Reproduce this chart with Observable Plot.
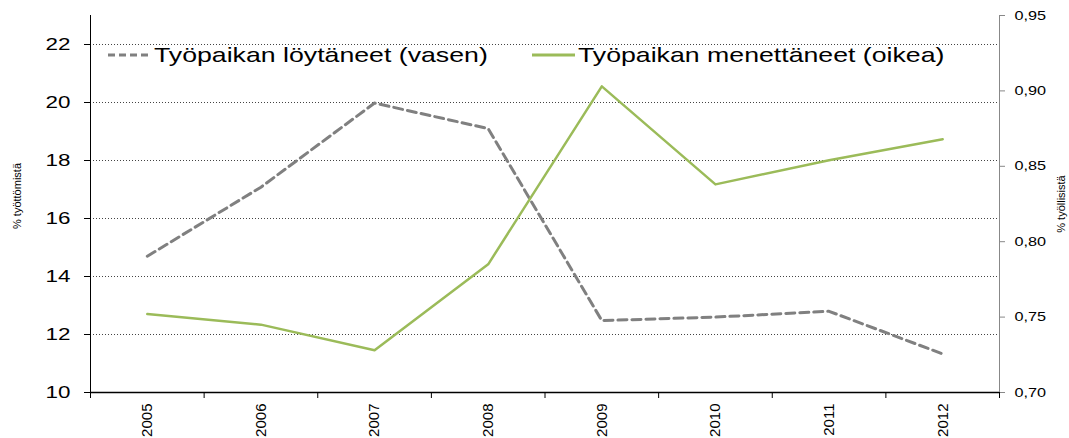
<!DOCTYPE html>
<html><head><meta charset="utf-8">
<script src="https://cdn.jsdelivr.net/npm/d3@7"></script>
<script src="https://cdn.jsdelivr.net/npm/@observablehq/plot@0.6"></script>
<style>body{margin:0;background:#fff;}</style>
</head><body><div id="chart"></div>
<script>
const years = [2005, 2006, 2007, 2008, 2009, 2010, 2011, 2012];
const foundJob = [14.7, 17.08, 19.98, 19.1, 12.48, 12.6, 12.8, 11.33];
const lostJob = [0.752, 0.745, 0.728, 0.785, 0.903, 0.838, 0.854, 0.868];
const leftTicks = [10, 12, 14, 16, 18, 20, 22];
const rightTicks = [0.70, 0.75, 0.80, 0.85, 0.90, 0.95];
const seriesNames = ["Työpaikan löytäneet (vasen)", "Työpaikan menettäneet (oikea)"];
const axisTitles = ["% työttömistä", "% työllisistä"];

const leftDomain = [10, 23];
const rightDomain = [0.70, 0.95];
const toLeft = v => leftDomain[0] + (v - rightDomain[0]) / (rightDomain[1] - rightDomain[0]) * (leftDomain[1] - leftDomain[0]);
const fromLeft = v => rightDomain[0] + (v - leftDomain[0]) / (leftDomain[1] - leftDomain[0]) * (rightDomain[1] - rightDomain[0]);

const data = years.map((year, i) => ({year, found: foundJob[i], lost: toLeft(lostJob[i])}));
const bounds = d3.range(years.length + 1).map(i => years[0] - 0.5 + i);

const plot = Plot.plot({
  width: 1069, height: 438,
  marginLeft: 90, marginRight: 70, marginTop: 15, marginBottom: 46,
  style: {fontFamily: "'Liberation Sans', Arial, sans-serif", background: "#fff", color: "#000"},
  x: {domain: [bounds[0], bounds[bounds.length - 1]]},
  y: {domain: leftDomain},
  marks: [
    Plot.gridY(leftTicks.slice(1), {stroke: "#444", strokeOpacity: 1, strokeDasharray: "1,2"}),
    Plot.axisY(leftTicks, {anchor: "left", tickSize: 6, tickPadding: 14, fontSize: 16, label: null, color: "#000"}),
    Plot.axisY(rightTicks.map(toLeft), {anchor: "right", tickSize: 5, tickPadding: 10, fontSize: 12.5, label: null,
      stroke: "#888", fill: "#000", tickFormat: d => fromLeft(d).toFixed(2).replace(".", ",")}),
    Plot.ruleX([bounds[0]], {stroke: "#000", strokeWidth: 1}),
    Plot.ruleX([bounds[bounds.length - 1]], {stroke: "#888", strokeWidth: 1}),
    Plot.axisX(bounds, {tickSize: 6, tickFormat: () => "", label: null, color: "#000"}),
    Plot.ruleY([leftDomain[0]], {stroke: "#000", strokeWidth: 1.5}),
    Plot.axisX(years, {tickSize: 0, tickRotate: -90, tickPadding: 11, fontSize: 15, label: null, tickFormat: d => String(d), color: "#000"}),
    Plot.line(data, {x: "year", y: "found", stroke: "#808080", strokeWidth: 3, strokeDasharray: "9,5"}),
    Plot.line(data, {x: "year", y: "lost", stroke: "#9BBB59", strokeWidth: 2.5}),
    Plot.text([axisTitles[0]], {frameAnchor: "left", textAnchor: "middle", dx: -73, dy: -8, rotate: -90, fontSize: 11, fill: "#000"}),
    Plot.text([axisTitles[1]], {frameAnchor: "right", textAnchor: "middle", dx: 62, rotate: -90, fontSize: 11, fill: "#000"})
  ]
});
document.getElementById("chart").appendChild(plot);

function stretch(el, s) {
  const x = +el.getAttribute("x") || 0, y = +el.getAttribute("y") || 0;
  const tr = el.getAttribute("transform") || "";
  el.setAttribute("transform", `${tr} translate(${x},${y}) scale(${s},1) translate(${-x},${-y})`);
}
const yLabelGroups = plot.querySelectorAll('g[aria-label="y-axis tick label"]');
if (yLabelGroups[0]) yLabelGroups[0].querySelectorAll("text").forEach(t => stretch(t, 1.4));
if (yLabelGroups[1]) yLabelGroups[1].querySelectorAll("text").forEach(t => stretch(t, 1.3));

// legend
const svg = d3.select(plot);
const lg = svg.append("g").attr("font-family", "'Liberation Sans', Arial, sans-serif")
  .attr("font-size", 20).attr("text-anchor", "start");
const legendItems = [
  {name: seriesNames[0], x: 108, stroke: "#808080", dash: "7,4", w: 3},
  {name: seriesNames[1], x: 532, stroke: "#9BBB59", dash: null, w: 3}
];
legendItems.forEach(it => {
  lg.append("line").attr("x1", it.x).attr("x2", it.x + 43).attr("y1", 55).attr("y2", 55)
    .attr("stroke", it.stroke).attr("stroke-width", it.w).attr("stroke-dasharray", it.dash);
  const t = lg.append("text").attr("x", it.x + 46).attr("y", 55).attr("dy", "0.35em")
    .attr("text-anchor", "start").attr("fill", "#000").text(it.name);
  stretch(t.node(), 1.335);
});
</script>
</body></html>
